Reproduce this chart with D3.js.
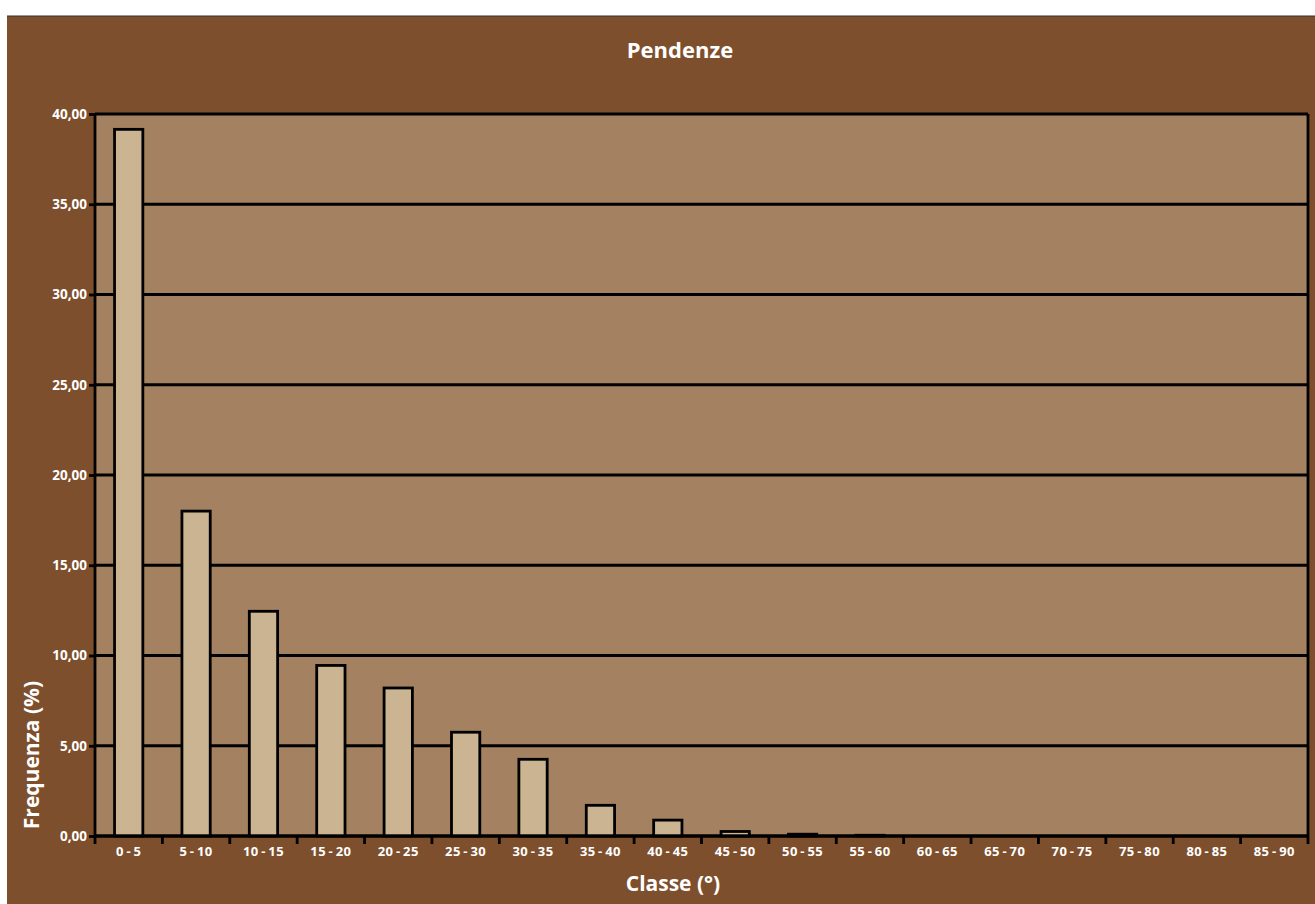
<!DOCTYPE html>
<html>
<head>
<meta charset="utf-8">
<title>Pendenze</title>
<script src="https://cdn.jsdelivr.net/npm/d3@7"></script>
<style>
  body { margin: 0; background: #fff; }
  text { font-family: "Open Sans", "DejaVu Sans", sans-serif; font-weight: bold; fill: #fff; }
</style>
</head>
<body>
<svg width="1315" height="904" id="mainsvg"></svg>
<script>
// classi di pendenza
const classes = ['0-5','5-10','10-15','15-20','20-25','25-30','30-35','35-40','40-45',
  '45-50','50-55','55-60','60-65','65-70','70-75','75-80','80-85','85-90'];
// frequenza in %
const freq = [39.15, 18.0, 12.45, 9.45, 8.2, 5.75, 4.25, 1.7, 0.88, 0.25, 0.1, 0.04, 0, 0, 0, 0, 0, 0];
const yTicks = [0, 5, 10, 15, 20, 25, 30, 35, 40];

const svg = d3.select('#mainsvg');
const W = +svg.attr('width'), H = +svg.attr('height');

// sfondo esterno
svg.append('rect').attr('x', 7).attr('y', 16).attr('width', W - 7).attr('height', H - 16)
  .attr('fill', '#7e4f2d');
svg.append('line').attr('x1', 7).attr('x2', W).attr('y1', 16).attr('y2', 16)
  .attr('stroke', '#333').attr('stroke-width', 1.2);

const margin = { top: 114, right: 7, bottom: 68, left: 95 };
const iw = W - margin.left - margin.right;
const ih = H - margin.top - margin.bottom;
const g = svg.append('g').attr('transform', `translate(${margin.left},${margin.top})`);

const x = d3.scaleBand().domain(classes).range([0, iw]).paddingInner(0.58).paddingOuter(0.29);
const xb = d3.scaleBand().domain(classes).range([0, iw]);
const y = d3.scaleLinear().domain([0, 40]).range([ih, 0]);

// area del grafico
g.append('rect').attr('width', iw).attr('height', ih).attr('fill', '#a48160');

// griglia
g.selectAll('.grid').data(yTicks).join('line')
  .attr('x1', 0).attr('x2', iw)
  .attr('y1', d => y(d)).attr('y2', d => y(d))
  .attr('stroke', '#000').attr('stroke-width', 2.8);

// bordo destro
g.append('line').attr('x1', iw).attr('x2', iw).attr('y1', 0).attr('y2', ih)
  .attr('stroke', '#000').attr('stroke-width', 2.8);

// barre
g.selectAll('.bar').data(freq).join('rect')
  .attr('x', (d, i) => x(classes[i]))
  .attr('width', x.bandwidth())
  .attr('y', d => y(d))
  .attr('height', d => ih - y(d))
  .attr('fill', '#cbb492')
  .attr('stroke', d => d > 0 ? '#000' : 'none')
  .attr('stroke-width', 2.8);

// asse y
const yAxis = d3.axisLeft(y).tickValues(yTicks).tickSize(6).tickPadding(2)
  .tickFormat(d => d3.format('.2f')(d).replace('.', ','));
const ya = g.append('g').call(yAxis);
ya.select('.domain').attr('stroke', '#000').attr('stroke-width', 2.8).attr('d', `M0,0V${ih}`);
ya.selectAll('.tick line').attr('stroke', '#000').attr('stroke-width', 2.8);
ya.selectAll('.tick text').attr('font-size', 13.5).attr('fill', '#fff');

// asse x
const xa = g.append('g').attr('transform', `translate(0,${ih})`);
xa.append('line').attr('x1', 0).attr('x2', iw).attr('stroke', '#000').attr('stroke-width', 2.8);
xa.selectAll('.xt').data(classes.concat(['end'])).join('line')
  .attr('x1', (d, i) => i * xb.bandwidth()).attr('x2', (d, i) => i * xb.bandwidth())
  .attr('y1', 0).attr('y2', 8)
  .attr('stroke', '#000').attr('stroke-width', 2.8);
xa.selectAll('.xl').data(classes).join('text')
  .attr('x', d => xb(d) + xb.bandwidth() / 2)
  .attr('y', 20)
  .attr('text-anchor', 'middle')
  .attr('font-size', 13)
  .attr('letter-spacing', 0.4)
  .text(d => d.replace('-', ' - ').replace(/ /g, '\u2009'));

// titoli
svg.append('text').attr('x', 680).attr('y', 58).attr('text-anchor', 'middle')
  .attr('font-size', 22).text('Pendenze');
svg.append('text').attr('x', 673).attr('y', 891).attr('text-anchor', 'middle')
  .attr('font-size', 21).text('Classe (°)');
svg.append('text').attr('transform', `translate(39,755) rotate(-90)`).attr('text-anchor', 'middle')
  .attr('font-size', 21).text('Frequenza (%)');
</script>
</body>
</html>
